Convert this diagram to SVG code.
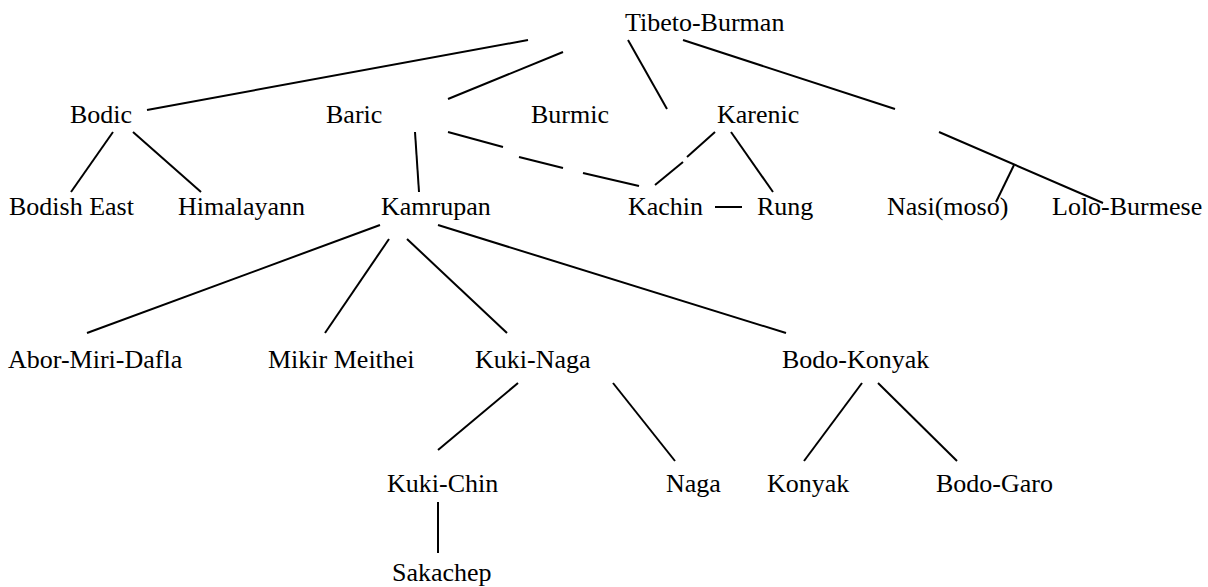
<svg xmlns="http://www.w3.org/2000/svg" width="1208" height="587" viewBox="0 0 1208 587">
<style>
.t{font-family:'Liberation Serif','Times New Roman',Times,serif;font-size:26px;fill:#000}
.c line{stroke:#000;stroke-width:2;stroke-linecap:butt}
</style>
<rect width="1208" height="587" fill="#fff"/>
<g class="c" id="connectors">
<line x1="147" y1="110" x2="528" y2="40"/>
<line x1="448" y1="99" x2="563" y2="52"/>
<line x1="628" y1="40" x2="667" y2="109"/>
<line x1="683" y1="40" x2="895" y2="109"/>
<line x1="939" y1="132" x2="1103" y2="203"/>
<line x1="1014" y1="165" x2="996" y2="202"/>
<line x1="113" y1="132" x2="71" y2="192"/>
<line x1="133" y1="132" x2="201" y2="192"/>
<line x1="415" y1="132" x2="419" y2="192"/>
<line x1="448" y1="132" x2="503" y2="147"/>
<line x1="519" y1="157" x2="563" y2="168"/>
<line x1="583" y1="173" x2="639" y2="186"/>
<line x1="715" y1="132" x2="687" y2="157"/>
<line x1="683" y1="162" x2="655" y2="185"/>
<line x1="731" y1="132" x2="773" y2="192"/>
<line x1="715" y1="207" x2="742" y2="207"/>
<line x1="380" y1="225" x2="87" y2="333"/>
<line x1="389" y1="239" x2="325" y2="333"/>
<line x1="407" y1="239" x2="507" y2="333"/>
<line x1="438" y1="225" x2="786" y2="333"/>
<line x1="518" y1="383" x2="438" y2="450"/>
<line x1="613" y1="383" x2="675" y2="461"/>
<line x1="438" y1="502" x2="438" y2="553"/>
<line x1="862" y1="383" x2="804" y2="461"/>
<line x1="878" y1="383" x2="957" y2="461"/>
</g>
<g id="tibeto-burman"><text class="t" font-family="Liberation Serif" x="625" y="31">Tibeto-Burman</text></g>
<g id="bodic"><text class="t" x="70" y="123">Bodic</text></g>
<g id="baric"><text class="t" x="326" y="123">Baric</text></g>
<g id="burmic"><text class="t" x="531" y="123">Burmic</text></g>
<g id="karenic"><text class="t" x="717" y="123">Karenic</text></g>
<g id="bodish-east"><text class="t" x="9" y="215">Bodish East</text></g>
<g id="himalayann"><text class="t" x="178" y="215">Himalayann</text></g>
<g id="kamrupan"><text class="t" x="381" y="215">Kamrupan</text></g>
<g id="kachin"><text class="t" x="628" y="215">Kachin</text></g>
<g id="rung"><text class="t" x="757" y="215">Rung</text></g>
<g id="nasi"><text class="t" x="887" y="215">Nasi(moso)</text></g>
<g id="lolo-burmese"><text class="t" x="1052" y="215">Lolo-Burmese</text></g>
<g id="abor-miri-dafla"><text class="t" x="8" y="368">Abor-Miri-Dafla</text></g>
<g id="mikir-meithei"><text class="t" x="268" y="368">Mikir Meithei</text></g>
<g id="kuki-naga"><text class="t" x="475" y="368">Kuki-Naga</text></g>
<g id="bodo-konyak"><text class="t" x="782" y="368">Bodo-Konyak</text></g>
<g id="kuki-chin"><text class="t" x="387" y="492">Kuki-Chin</text></g>
<g id="naga"><text class="t" x="666" y="492">Naga</text></g>
<g id="konyak"><text class="t" x="767" y="492">Konyak</text></g>
<g id="bodo-garo"><text class="t" x="936" y="492">Bodo-Garo</text></g>
<g id="sakachep"><text class="t" x="392" y="581">Sakachep</text></g>
</svg>
